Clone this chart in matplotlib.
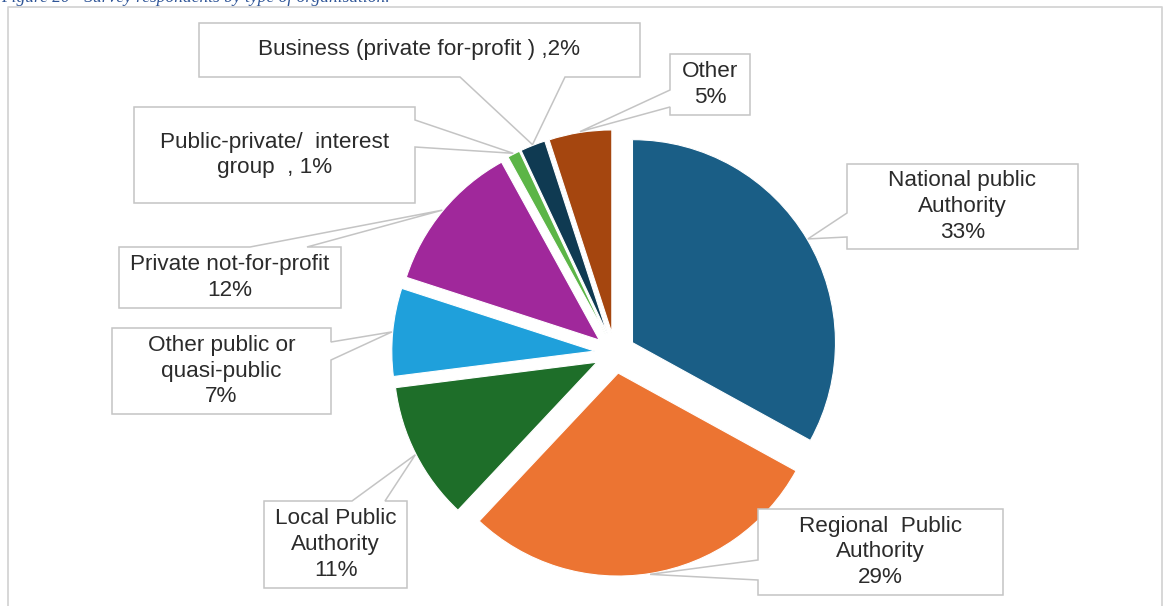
import numpy as np
import matplotlib.pyplot as plt
from matplotlib.patches import Polygon

W, H = 1168, 606

# survey respondents by type of organisation, clockwise from 12 o'clock
org_types = ['National public\nAuthority', 'Regional  Public\nAuthority', 'Local Public\nAuthority',
             'Other public or\nquasi-public', 'Private not-for-profit',
             'Public-private/  interest\ngroup', 'Business (private for-profit )', 'Other']
shares = [33, 29, 11, 7, 12, 1, 2, 5]
pct_sep = ['\n', '\n', '\n', '\n', '\n', '  , ', ' ,', '\n']
colours = ['#1a5e86', '#ec7432', '#1e6e29', '#1fa0db', '#a0289b', '#5cb547', '#0f3a52', '#a5460f']

# callout boxes in pixels from the top-left: left, top, right, bottom, pointer side, pointer span
boxes = [
    (847, 164, 1078, 249, 'left', 213, 237),
    (758, 509, 1003, 595, 'left', 560, 580),
    (264, 501, 407, 588, 'top', 352, 385),
    (112, 328, 331, 414, 'right', 342, 360),
    (119, 247, 341, 308, 'top', 250, 307),
    (134, 107, 415, 203, 'right', 120, 147),
    (199, 23, 640, 77, 'bottom', 460, 565),
    (670, 54, 750, 115, 'left', 90, 107),
]

plt.rcParams['font.family'] = ['Liberation Sans', 'DejaVu Sans']

fig = plt.figure(figsize=(W / 100, H / 100), dpi=100)
ax = fig.add_axes([0, 0, 1, 1])

R = 203
wedges, _ = ax.pie(shares, colors=colours, startangle=90, counterclock=False,
                   explode=[0.1 * R] * len(shares), center=(615, H - 353), radius=R,
                   frame=True, wedgeprops=dict(linewidth=0.8, edgecolor='white'))

for w, name, v, sep, (l, t, r, b, side, a1, a2) in zip(wedges, org_types, shares, pct_sep, boxes):
    # pointer tip sits on the outer arc in the middle of the slice
    mid = np.deg2rad((w.theta1 + w.theta2) / 2)
    tx = w.center[0] + w.r * 1.004 * np.cos(mid)
    ty = H - (w.center[1] + w.r * 1.004 * np.sin(mid))
    tip = (tx, ty)
    tl, tr, br, bl = (l, t), (r, t), (r, b), (l, b)
    if side == 'top':
        pts = [tl, (a1, t), tip, (a2, t), tr, br, bl]
    elif side == 'right':
        pts = [tl, tr, (r, a1), tip, (r, a2), br, bl]
    elif side == 'bottom':
        pts = [tl, tr, br, (a2, b), tip, (a1, b), bl]
    else:
        pts = [tl, tr, br, bl, (l, a2), tip, (l, a1)]
    pts = [(x, H - y) for x, y in pts]
    ax.add_patch(Polygon(pts, closed=True, facecolor='white', edgecolor='#c4c4c4',
                         linewidth=1.1, zorder=3))
    ax.text((l + r) / 2, H - (t + b) / 2, f'{name}{sep}{v}%', ha='center', va='center',
            fontsize=16.2, color='#2b2b2b', linespacing=1.3, zorder=4)

# chart area border
ax.plot([8, 8, 1162, 1162], [0, H - 7, H - 7, 0], color='#d4d4d4', linewidth=1.3)

ax.text(1, H - 2, 'Figure 20 - Survey respondents by type of organisation.',
        family='Liberation Serif', style='italic', fontsize=12.5, color='#2f5597',
        va='baseline', ha='left')

ax.set_xlim(0, W)
ax.set_ylim(0, H)
ax.axis('off')

fig.savefig('out.png', dpi=100, facecolor='white')
